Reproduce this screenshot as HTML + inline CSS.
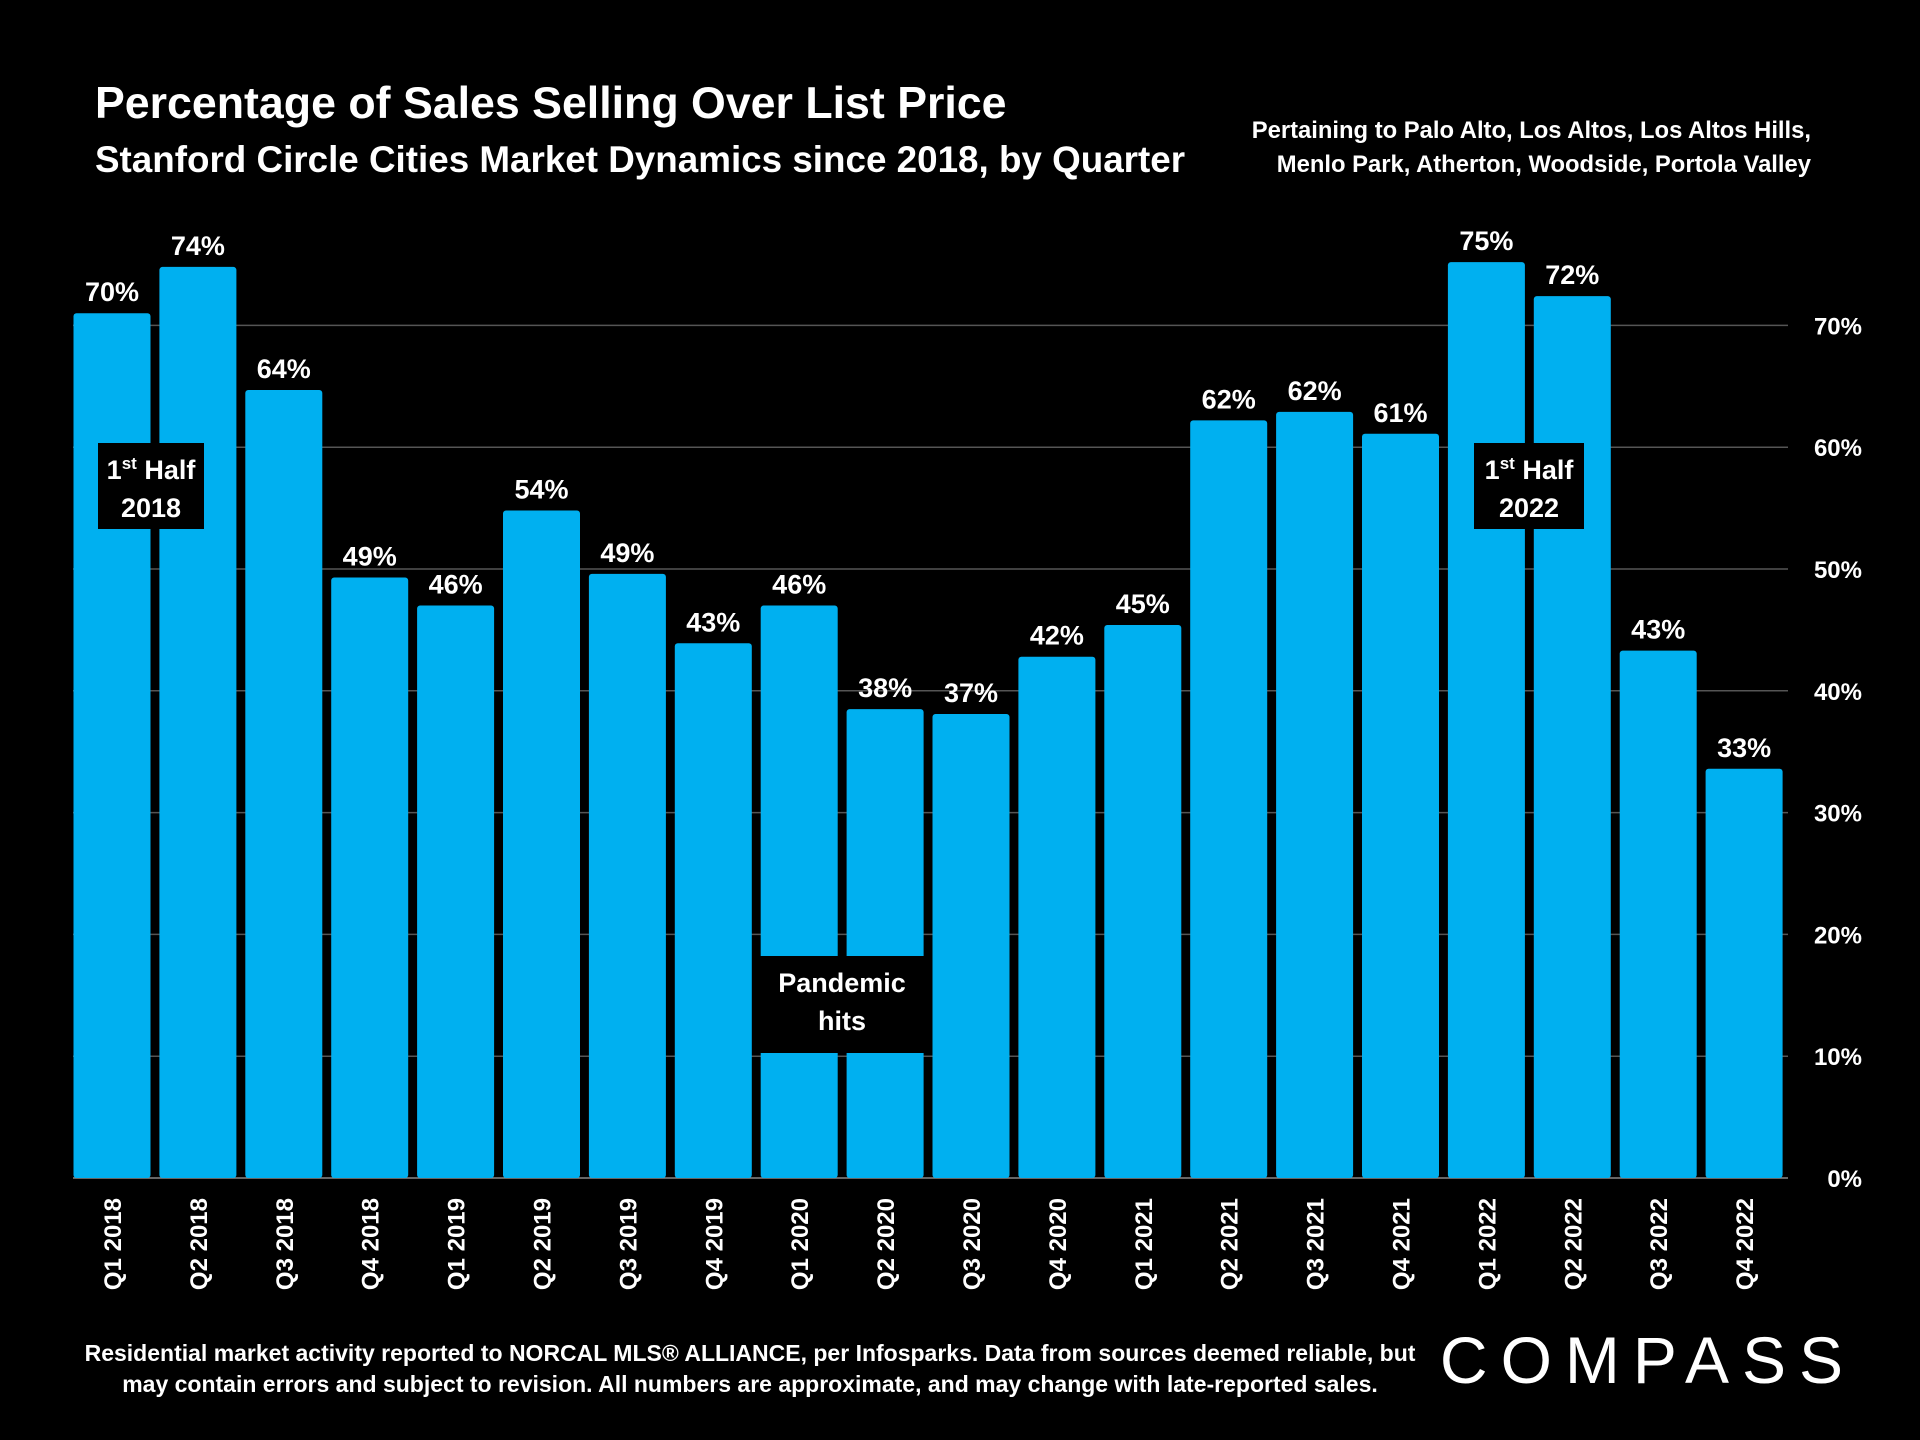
<!DOCTYPE html>
<html><head><meta charset="utf-8"><style>
html,body{margin:0;padding:0;background:#000;}
svg{display:block;font-family:"Liberation Sans",sans-serif;}
</style></head><body>
<svg id="chart" width="1920" height="1440" viewBox="0 0 1920 1440">
<rect width="1920" height="1440" fill="#000"/>
<text x="95" y="118" fill="#fff" font-size="44.7" font-weight="bold">Percentage of Sales Selling Over List Price</text>
<text x="95" y="172" fill="#fff" font-size="36.8" font-weight="bold">Stanford Circle Cities Market Dynamics since 2018, by Quarter</text>
<text x="1811" y="138" fill="#fff" font-size="23.8" font-weight="bold" text-anchor="end">Pertaining to Palo Alto, Los Altos, Los Altos Hills,</text>
<text x="1811" y="172" fill="#fff" font-size="23.8" font-weight="bold" text-anchor="end">Menlo Park, Atherton, Woodside, Portola Valley</text>
<g id="grid"></g><g id="bars"></g><g id="labels"></g><g id="annot"></g>
<text x="750" y="1361" fill="#fff" font-size="23" font-weight="bold" text-anchor="middle">Residential market activity reported to NORCAL MLS® ALLIANCE, per Infosparks. Data from sources deemed reliable, but</text>
<text x="750" y="1392" fill="#fff" font-size="23" font-weight="bold" text-anchor="middle">may contain errors and subject to revision. All numbers are approximate, and may change with late-reported sales.</text>
<text x="1648" y="1383" fill="#fff" font-size="66" text-anchor="middle" letter-spacing="13">COMPASS</text>
</svg>
<script>
const categories=["Q1 2018","Q2 2018","Q3 2018","Q4 2018","Q1 2019","Q2 2019","Q3 2019","Q4 2019","Q1 2020","Q2 2020","Q3 2020","Q4 2020","Q1 2021","Q2 2021","Q3 2021","Q4 2021","Q1 2022","Q2 2022","Q3 2022","Q4 2022"];
const values=[71.0,74.8,64.7,49.3,47.0,54.8,49.6,43.9,47.0,38.5,38.1,42.8,45.4,62.2,62.9,61.1,75.2,72.4,43.3,33.6];
const valueLabels=["70%","74%","64%","49%","46%","54%","49%","43%","46%","38%","37%","42%","45%","62%","62%","61%","75%","72%","43%","33%"];
const yTicks=[0,10,20,30,40,50,60,70];
const NS="http://www.w3.org/2000/svg";
const y0=1178,perUnit=12.18,x0=73.5,pitch=85.9,bw=77;
const y=v=>y0-v*perUnit;
const x=i=>x0+i*pitch;
function mk(t,a,p){const e=document.createElementNS(NS,t);for(const k in a)e.setAttribute(k,a[k]);p.appendChild(e);return e;}
const grid=document.getElementById('grid'),bars=document.getElementById('bars'),labels=document.getElementById('labels'),annot=document.getElementById('annot');
yTicks.forEach(t=>{
 const l=mk('line',{x1:73,x2:1788,y1:y(t),y2:y(t),stroke:t===0?'#888':'#555','stroke-width':1.5},grid);
 
 
 const tx=mk('text',{x:1862,y:y(t)+9,fill:'#fff','font-size':24,'font-weight':'bold','text-anchor':'end'},grid);
 tx.textContent=t+'%';
 
 
});
values.forEach((v,i)=>{
 const r=mk('rect',{x:x(i),y:y(v),width:bw,height:y0-y(v),fill:'#00b0f0',rx:3},bars);
 
 
 const t=mk('text',{x:x(i)+bw/2,y:y(v)-12,fill:'#fff','font-size':27,'font-weight':'bold','text-anchor':'middle'},labels);
 t.textContent=valueLabels[i];
 
 
 const cx=x(i)+bw/2+9;
 const c=mk('text',{x:0,y:0,fill:'#fff','font-size':24,'font-weight':'bold','text-anchor':'end',transform:`translate(${cx},1198) rotate(-90)`},labels);
 c.textContent=categories[i];
 
 
});
function box(x1,y1,w,h,lines,name){
 const g=mk('g',{},annot);
 
 
 mk('rect',{x:x1,y:y1,width:w,height:h,fill:'#000'},g);
 lines.forEach((ln,k)=>{const t=mk('text',{x:x1+w/2,y:y1+36+k*38,fill:'#fff','font-size':27,'font-weight':'bold','text-anchor':'middle'},g);t.innerHTML=ln;});
}
box(98,443,106,86,['1<tspan font-size="17" dy="-10">st</tspan><tspan dy="10"> Half</tspan>','2018'],'annotation-1st-half-2018');
box(1474,443,110,86,['1<tspan font-size="17" dy="-10">st</tspan><tspan dy="10"> Half</tspan>','2022'],'annotation-1st-half-2022');
box(759,956,166,97,['Pandemic','hits'],'annotation-pandemic');
</script>
</body></html>
